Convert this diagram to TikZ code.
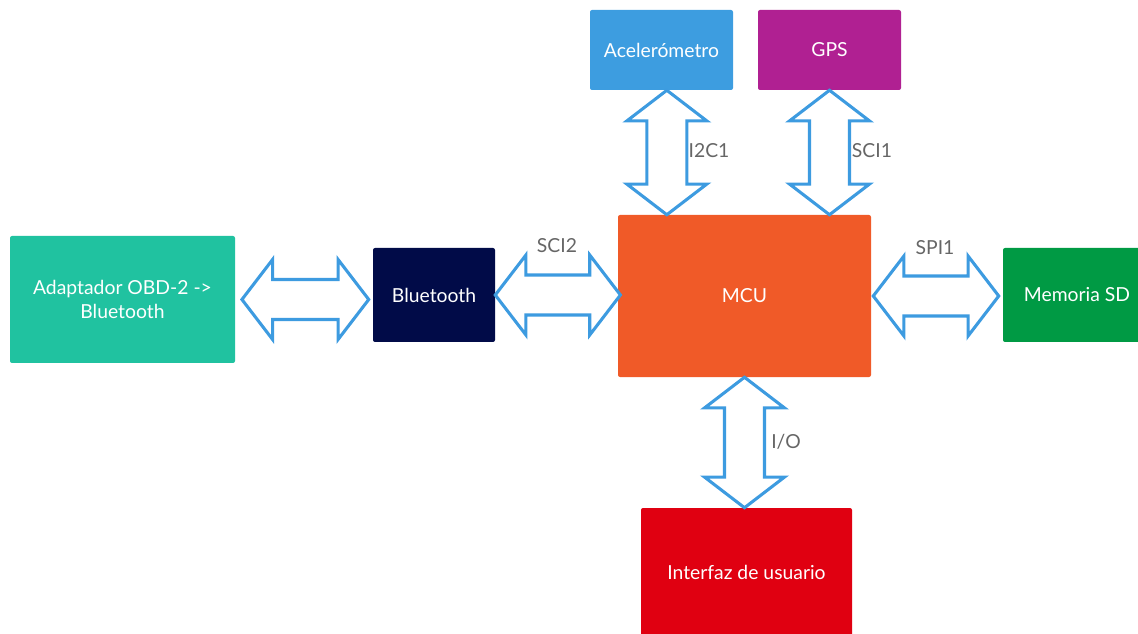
\documentclass[tikz,border=0pt]{standalone}
\usepackage{fontspec}
\setmainfont{Lato}
\usetikzlibrary{calc}

\definecolor{accblue}{RGB}{61, 157, 224}
\definecolor{gpsviolet}{RGB}{176, 32, 146}
\definecolor{mcuorange}{RGB}{240, 90, 40}
\definecolor{btnavy}{RGB}{1, 11, 72}
\definecolor{obdgreen}{RGB}{32, 194, 160}
\definecolor{sdgreen}{RGB}{0, 154, 68}
\definecolor{uired}{RGB}{224, 0, 17}
\definecolor{busblue}{RGB}{61, 155, 224}
\definecolor{labelgray}{RGB}{102, 102, 102}

% vertical bus arrow: tip at #1 (top) and #2 (bottom)
\newcommand{\busv}[2]{%
  \draw[bus] let \p1=(#1), \p2=(#2) in
    (\x1,\y1) -- (\x1+30pt,\y1-23pt) -- (\x1+15pt,\y1-23pt) -- (\x1+15pt,\y2+23pt)
    -- (\x1+30pt,\y2+23pt) -- (\x1,\y2) -- (\x1-30pt,\y2+23pt) -- (\x1-15pt,\y2+23pt)
    -- (\x1-15pt,\y1-23pt) -- (\x1-30pt,\y1-23pt) -- cycle;
}
% horizontal bus arrow: tip at #1 (left) and #2 (right)
\newcommand{\bush}[2]{%
  \draw[bus] let \p1=(#1), \p2=(#2) in
    (\x1,\y1) -- (\x1+23pt,\y1+30pt) -- (\x1+23pt,\y1+15pt) -- (\x2-23pt,\y1+15pt)
    -- (\x2-23pt,\y1+30pt) -- (\x2,\y1) -- (\x2-23pt,\y1-30pt) -- (\x2-23pt,\y1-15pt)
    -- (\x1+23pt,\y1-15pt) -- (\x1+23pt,\y1-30pt) -- cycle;
}

\begin{document}
\begin{tikzpicture}[x=0.75pt, y=-0.75pt,
    block/.style={rectangle, rounded corners=1.5pt, text=white, align=center,
      font=\fontsize{14.5}{18}\selectfont, inner sep=0pt},
    bus/.style={draw=busblue, fill=white, line width=2.3pt, line join=miter},
    buslabel/.style={text=labelgray, font=\fontsize{14.5}{17}\selectfont}]
  \useasboundingbox (0, 0) rectangle (1138, 634);

  % Sensores
  \node[block, fill=accblue, minimum width=143*0.75pt, minimum height=80*0.75pt] (acc) at (661.5, 50) {Acelerómetro};
  \node[block, fill=gpsviolet, minimum width=143*0.75pt, minimum height=80*0.75pt] (gps) at (829.5, 50) {GPS};

  % MCU
  \node[block, fill=mcuorange, minimum width=253*0.75pt, minimum height=162*0.75pt] (mcu) at (744.5, 296) {MCU};

  % Bluetooth
  \node[block, fill=btnavy, minimum width=122*0.75pt, minimum height=94*0.75pt] (bt) at (434, 295) {Bluetooth};
  \node[block, fill=obdgreen, minimum width=225*0.75pt, minimum height=127*0.75pt] (obd) at (122.5, 299.5) {Adaptador OBD-2 ->\\Bluetooth};

  % Memoria
  \node[block, fill=sdgreen, minimum width=148*0.75pt, minimum height=94*0.75pt] (sd) at (1077, 295) {Memoria SD};

  % Interfaz
  \node[block, fill=uired, minimum width=211*0.75pt, minimum height=128*0.75pt] (ui) at (746.5, 572) {Interfaz de usuario};

  % Buses
  \busv{[xshift=4pt]acc.south}{mcu.north}
  \busv{gps.south}{mcu.north}
  \busv{mcu.south}{ui.north}
  \bush{[xshift=5pt]obd.east}{[xshift=-3pt]bt.west}
  \bush{bt.east}{[xshift=2pt]mcu.west}
  \bush{[xshift=1.5pt]mcu.east}{[xshift=-3pt]sd.west}

  % Etiquetas
  \node[buslabel] (i2c) at (709, 151) {I2C1};
  \node[buslabel] (sci1) at (872, 151) {SCI1};
  \node[buslabel] (sci2) at (557, 246) {SCI2};
  \node[buslabel] (spi1) at (935, 248) {SPI1};
  \node[buslabel] (io) at (786, 442) {I/O};
\end{tikzpicture}
\end{document}
